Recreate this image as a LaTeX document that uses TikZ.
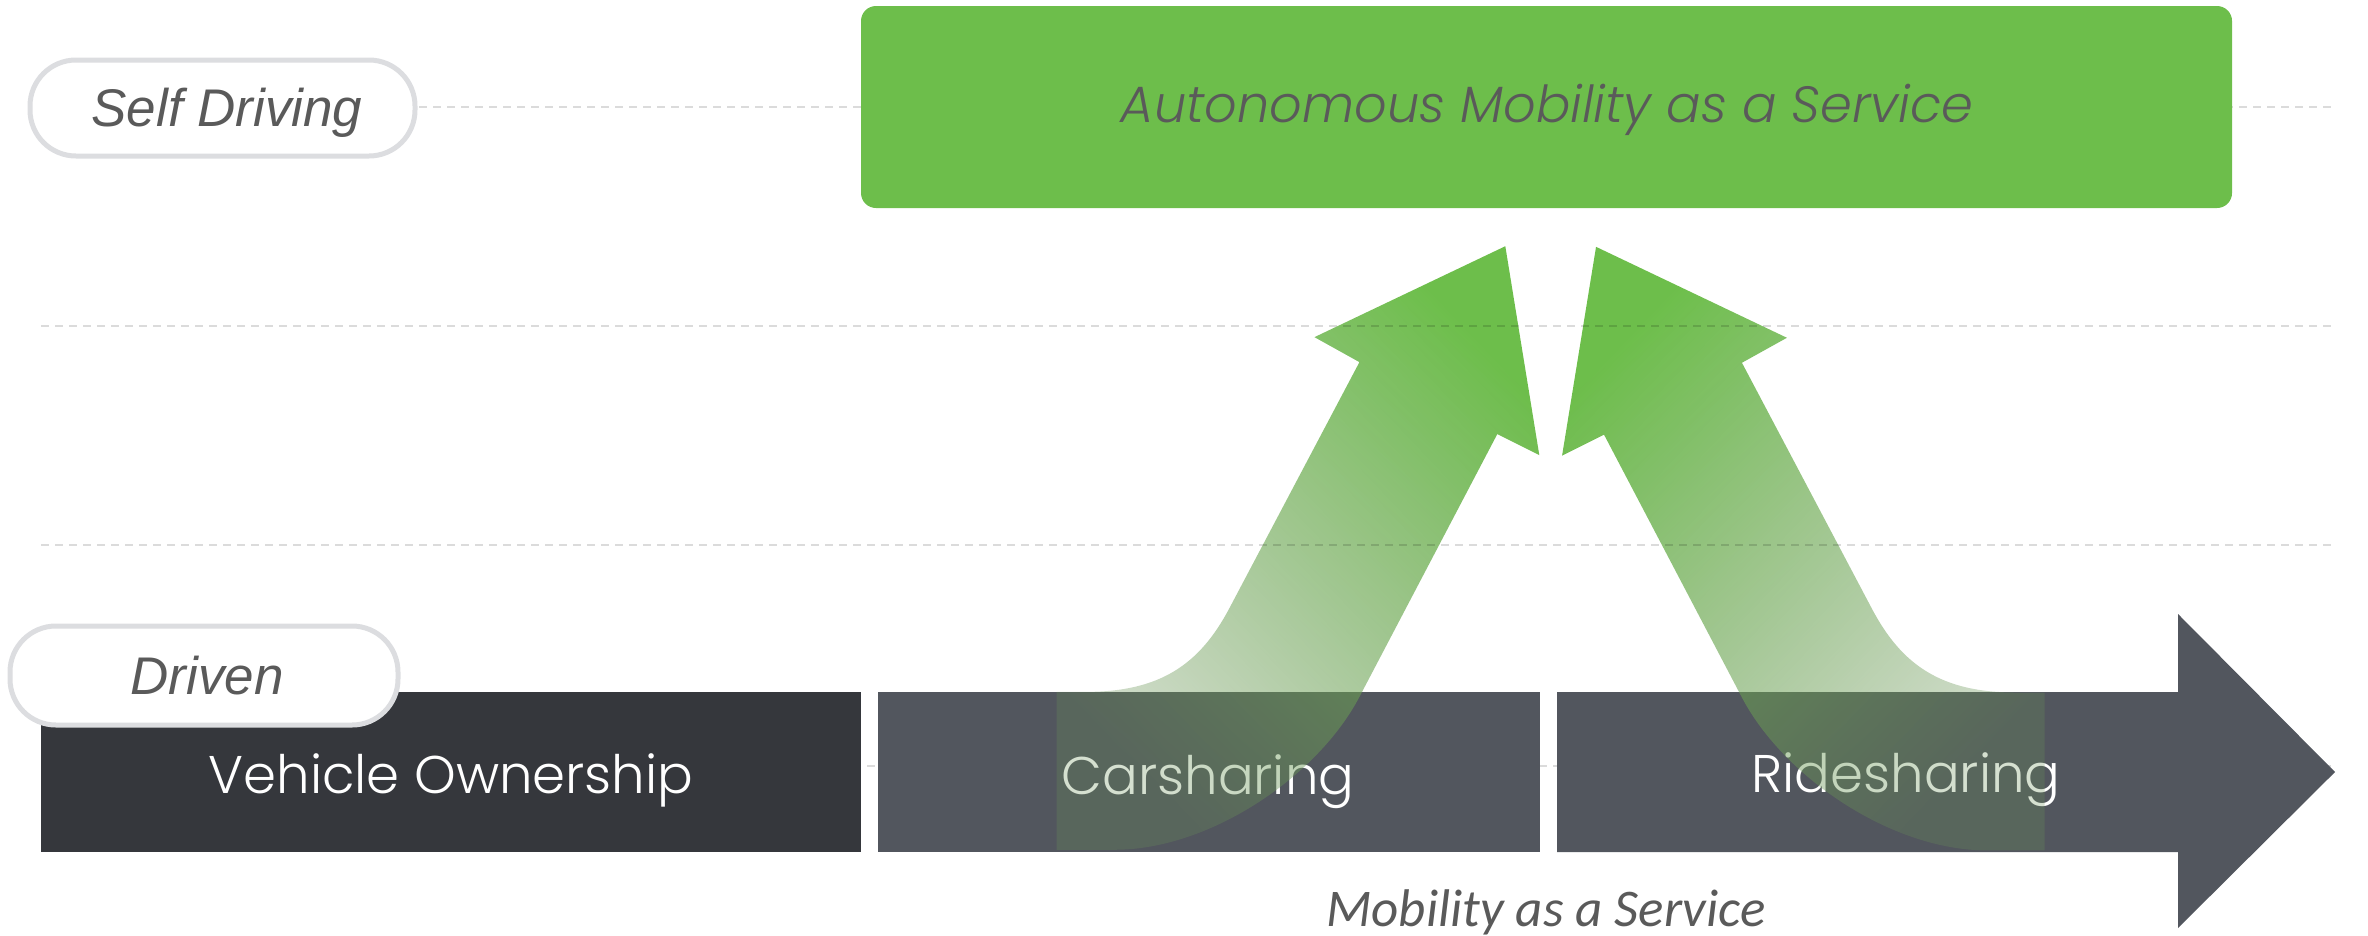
\documentclass[tikz,border=0pt]{standalone}
\usepackage{fontspec}
\setmainfont{Liberation Sans}
\newfontfamily\gothic{Poppins Light}
\newfontfamily\calib{Carlito}
\usetikzlibrary{fadings}

\definecolor{mgreen}{HTML}{6DBE4B}
\definecolor{fadegreen}{HTML}{6A9058}
\definecolor{darkbar}{HTML}{35373C}
\definecolor{graybar}{HTML}{52565E}
\definecolor{pillgray}{HTML}{DCDDE0}
\definecolor{txtgray}{HTML}{5A5A5A}

\tikzfading[name=arrowfade, top color=transparent!0, middle color=transparent!8, bottom color=transparent!72]

\begin{document}
\begin{tikzpicture}[x=1pt, y=-1pt,
		pill/.style={draw=pillgray, line width=5pt, fill=white, rounded corners=46pt},
		lbl/.style={font=\fontsize{53}{60}\selectfont\itshape, text=txtgray, anchor=base},
		bartext/.style={font=\gothic\fontsize{53}{60}\selectfont, text=white, anchor=base},
		grid/.style={draw=black, draw opacity=.14, line width=2pt, dash pattern=on 8pt off 6pt},
		bigarrow/.style={top color=mgreen, bottom color=fadegreen, shading angle=#1, path fading=arrowfade, fading angle=#1}]
		\useasboundingbox (0,0) rectangle (2368,935);
		\foreach \y in {107,766} {
			\draw[grid] (41,\y) -- (2333,\y);
		}
		
		\fill[color=mgreen, rounded corners=15pt] (861,6) rectangle (2232,208);
		\node[font=\gothic\itshape\fontsize{51}{60}\selectfont, text=txtgray, anchor=base] (amas) at (1547,122) {Autonomous Mobility as a Service};
		\draw[pill] (30,60) rectangle (415,156);
		\node[lbl] (self) at (227,126) {Self Driving};
		
		\fill[color=darkbar] (41,692) rectangle (861,852);
		\node[bartext] (owner) at (451,793) {Vehicle Ownership};
		\fill[color=graybar] (878,692) rectangle (1540,852);
		\node[bartext] (car) at (1208,794) {Carsharing};
		\fill[color=graybar] (1557,692) -- (2178,692) -- (2178,614) -- (2335,772) -- (2178,928) -- (2178,852) -- (1557,852) -- cycle;
		\node[bartext] (ride) at (1906,792) {Ridesharing};
		\draw[pill] (10,626) rectangle (398,725);
		\node[lbl] (driven) at (207,694) {Driven};
		
		\shade[bigarrow=-40] (1057,692) -- (1086,692) .. controls (1160,692) and (1200,665) .. (1230,608) -- (1360,362) -- (1315,337) -- (1506,246) -- (1540,455) -- (1498,434) -- (1360,697) .. controls (1318,777) and (1210,850) .. (1115,850) -- (1057,850) -- cycle;
		\begin{scope}[xshift=3102pt, xscale=-1]
			\shade[bigarrow=40] (1057,692) -- (1086,692) .. controls (1160,692) and (1200,665) .. (1230,608) -- (1360,362) -- (1315,337) -- (1506,246) -- (1540,455) -- (1498,434) -- (1360,697) .. controls (1318,777) and (1210,850) .. (1115,850) -- (1057,850) -- cycle;
		\end{scope}
		\foreach \y in {326,545} {
			\draw[grid] (41,\y) -- (2333,\y);
		}
		
		\node[font=\calib\itshape\fontsize{53}{58}\selectfont, text=txtgray, anchor=base] (maas) at (1546,926) {Mobility as a Service};
	\end{tikzpicture}
\end{document}
